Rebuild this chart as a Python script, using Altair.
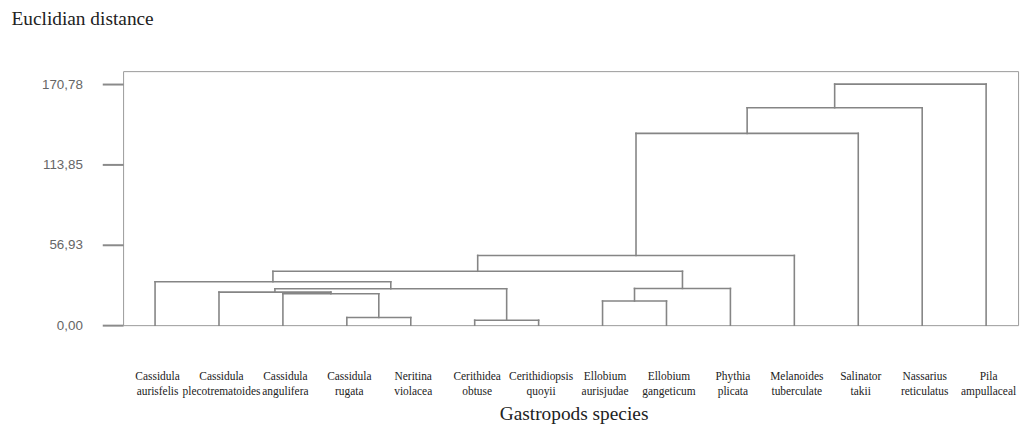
import json
import altair as alt
import pandas as pd

# Leaves of the dendrogram, in display order
leaves = [
    "Cassidula aurisfelis",
    "Cassidula plecotrematoides",
    "Cassidula angulifera",
    "Cassidula rugata",
    "Neritina violacea",
    "Cerithidea obtuse",
    "Cerithidiopsis quoyii",
    "Ellobium aurisjudae",
    "Ellobium gangeticum",
    "Phythia plicata",
    "Melanoides tuberculate",
    "Salinator takii",
    "Nassarius reticulatus",
    "Pila ampullaceal",
]

# Merge steps: node ids 0..13 are leaves, 14.. are clusters created in order
merge_left = [3, 5, 2, 1, 17, 0, 7, 20, 19, 22, 23, 24, 25]
merge_right = [4, 6, 14, 16, 15, 18, 8, 9, 21, 10, 11, 12, 13]
merge_height = [5.4, 3.5, 22.3, 23.4, 25.8, 30.7, 17.1, 26.0, 38.2, 49.4, 135.9, 154.1, 170.78]

y_ticks = [0, 56.93, 113.85, 170.78]

n = len(leaves)
pos = {i: float(i) for i in range(n)}
hgt = {i: 0.0 for i in range(n)}
rows = []
for k, (a, b, h) in enumerate(zip(merge_left, merge_right, merge_height)):
    for c in (a, b):
        rows.append({"x": pos[c], "x2": pos[c], "y": hgt[c], "y2": h})
    rows.append({"x": pos[a], "x2": pos[b], "y": h, "y2": h})
    pos[n + k] = (pos[a] + pos[b]) / 2
    hgt[n + k] = h

df = pd.DataFrame(rows)

names_js = json.dumps(leaves)

chart = (
    alt.Chart(df)
    .mark_rule(color="#858585", strokeWidth=1.6, strokeCap="square")
    .encode(
        x=alt.X(
            "x:Q",
            scale=alt.Scale(domain=[-0.5, n - 0.5], nice=False, zero=False),
            axis=alt.Axis(
                values=list(range(n)),
                labelExpr=f"split({names_js}[round(datum.value)], ' ')",
                labelFont="Liberation Serif",
                labelFontSize=11.5,
                labelColor="#222222",
                labelAlign="center",
                labelBaseline="alphabetic",
                labelLineHeight=15,
                labelPadding=55,
                labelOffset=2,
                labelFlush=False,
                labelOverlap=False,
                labelBound=False,
                ticks=False,
                tickSize=0,
                domain=False,
                grid=False,
                title="Gastropods species",
                titleFont="Liberation Serif",
                titleFontSize=19.5,
                titleFontWeight="normal",
                titleColor="#222222",
                titleX=454,
                titleY=95,
                titleAlign="center",
                titleBaseline="alphabetic",
            ),
        ),
        x2="x2:Q",
        y=alt.Y(
            "y:Q",
            scale=alt.Scale(domain=[0, 180], nice=False, zero=True),
            axis=alt.Axis(
                values=y_ticks,
                labelExpr="replace(format(datum.value, '.2f'), '.', ',')",
                labelFont="Liberation Sans",
                labelFontSize=13.5,
                labelColor="#666666",
                labelPadding=20,
                tickSize=21,
                tickWidth=2,
                tickColor="#8a8a8a",
                domain=False,
                grid=False,
                title="Euclidian distance",
                titleFont="Liberation Serif",
                titleFontSize=19.5,
                titleFontWeight="normal",
                titleColor="#222222",
                titleAngle=0,
                titleX=-113,
                titleY=-47,
                titleAlign="left",
                titleBaseline="alphabetic",
            ),
        ),
        y2="y2:Q",
    )
    .properties(
        width=902,
        height=256,
        autosize=alt.AutoSizeParams(type="none"),
        padding={"left": 116, "top": 62, "right": 10, "bottom": 100},
    )
    .configure_view(stroke="#9a9a9a", strokeWidth=1)
)

chart.save("out.html", embed_options={"renderer": "svg", "actions": False})
